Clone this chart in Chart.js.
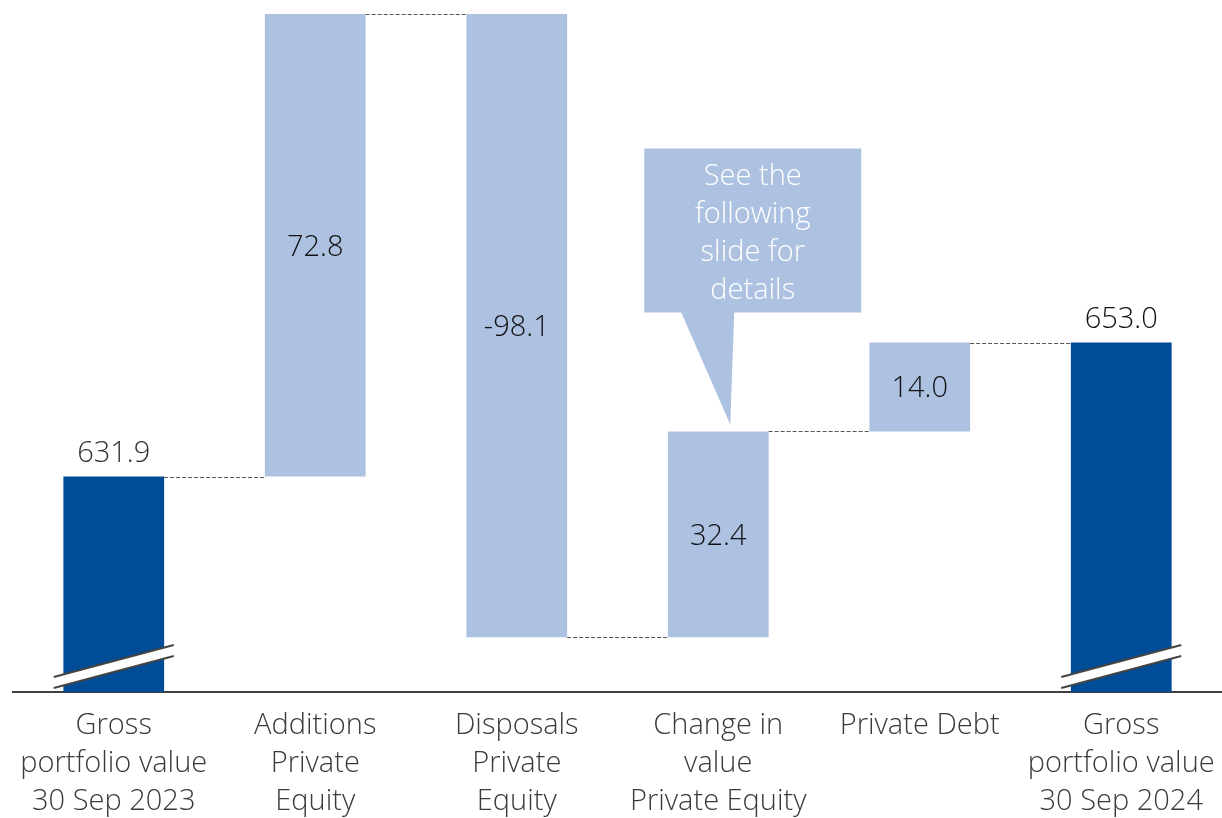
<!DOCTYPE html>
<html>
<head>
<meta charset="utf-8">
<script src="https://cdn.jsdelivr.net/npm/chart.js@4.4.0/dist/chart.umd.min.js"></script>
<style>
  html, body { margin: 0; padding: 0; background: #ffffff; }
  #wrap { width: 1222px; height: 818px; position: relative; }
</style>
</head>
<body>
<div id="wrap"><canvas id="c"></canvas></div>
<script>
// ---- data ----
const categories = [
  ["Gross", "portfolio value", "30 Sep 2023"],
  ["Additions", "Private", "Equity"],
  ["Disposals", "Private", "Equity"],
  ["Change in", "value", "Private Equity"],
  ["Private Debt"],
  ["Gross", "portfolio value", "30 Sep 2024"]
];
const values = [631.9, 72.8, -98.1, 32.4, 14.0, 653.0];
const kinds = ["total", "delta", "delta", "delta", "delta", "total"];
const calloutLines = ["See the", "following", "slide for", "details"];
const calloutIndex = 3;

// ---- derived floating ranges ----
const ranges = [];
const levels = [];
let running = 0;
values.forEach((v, i) => {
  if (kinds[i] === "total") { ranges.push([0, v]); running = v; }
  else { ranges.push([running, running + v]); running += v; }
  levels.push(running);
});

const DARK = "#004C97";
const LIGHT = "#ADC1E1";
const FONT = "'Open Sans', 'Noto Sans', sans-serif";

const overlay = {
  id: "overlay",
  afterDatasetsDraw(chart) {
    const ctx = chart.ctx;
    const meta = chart.getDatasetMeta(0);
    const y = chart.scales.y;
    const area = chart.chartArea;
    ctx.save();
    // connectors
    ctx.strokeStyle = "#555555";
    ctx.lineWidth = 1;
    ctx.setLineDash([4, 2]);
    for (let i = 0; i < meta.data.length - 1; i++) {
      const a = meta.data[i], b = meta.data[i + 1];
      const yy = Math.round(y.getPixelForValue(levels[i])) + 0.5;
      ctx.beginPath();
      ctx.moveTo(a.x + a.width / 2, yy);
      ctx.lineTo(b.x - b.width / 2, yy);
      ctx.stroke();
    }
    ctx.setLineDash([]);
    // axis breaks on totals
    meta.data.forEach((bar, i) => {
      if (kinds[i] !== "total") return;
      const bt = area.bottom;
      const x0 = bar.x - 60, x1 = bar.x + 60;
      ctx.fillStyle = "#ffffff";
      ctx.beginPath();
      ctx.moveTo(x0, bt - 15);
      ctx.lineTo(x1, bt - 47);
      ctx.lineTo(x1, bt - 36);
      ctx.lineTo(x0, bt - 4);
      ctx.closePath();
      ctx.fill();
      ctx.strokeStyle = "#444444";
      ctx.lineWidth = 2;
      ctx.beginPath();
      ctx.moveTo(x0, bt - 15); ctx.lineTo(x1, bt - 47);
      ctx.moveTo(x0, bt - 4); ctx.lineTo(x1, bt - 36);
      ctx.stroke();
    });
    // value labels
    ctx.font = "300 29px " + FONT;
    ctx.textAlign = "center";
    ctx.textBaseline = "middle";
    meta.data.forEach((bar, i) => {
      const txt = values[i].toFixed(1);
      if (kinds[i] === "total") {
        ctx.fillStyle = i === 0 ? "#333333" : "#111111";
        ctx.fillText(txt, bar.x, Math.min(bar.y, bar.base) - 23);
      } else {
        ctx.fillStyle = "#111111";
        ctx.fillText(txt, bar.x, (bar.y + bar.base) / 2 + 2);
      }
    });
    // callout
    const cb = meta.data[calloutIndex];
    const tipX = cb.x + 12, tipY = Math.min(cb.y, cb.base) - 7;
    const rL = tipX - 86, rR = tipX + 131, rT = tipY - 276, rB = tipY - 112;
    ctx.fillStyle = LIGHT;
    ctx.beginPath();
    ctx.moveTo(rL, rT);
    ctx.lineTo(rR, rT);
    ctx.lineTo(rR, rB);
    ctx.lineTo(tipX + 4, rB);
    ctx.lineTo(tipX, tipY);
    ctx.lineTo(tipX - 49, rB);
    ctx.lineTo(rL, rB);
    ctx.closePath();
    ctx.fill();
    ctx.fillStyle = "#ffffff";
    const cx = (rL + rR) / 2;
    calloutLines.forEach((t, k) => ctx.fillText(t, cx, rT + 28 + k * 38));
    ctx.restore();
  }
};

new Chart(document.getElementById("c"), {
  type: "bar",
  data: {
    labels: categories,
    datasets: [{
      data: ranges,
      backgroundColor: kinds.map(k => k === "total" ? DARK : LIGHT),
      borderWidth: 0,
      barPercentage: 0.5,
      categoryPercentage: 1.0
    }]
  },
  options: {
    responsive: true,
    maintainAspectRatio: false,
    animation: false,
    events: [],
    layout: { padding: { left: 13, right: -7, top: 14, bottom: -10 } },
    plugins: { legend: { display: false }, tooltip: { enabled: false } },
    scales: {
      x: {
        offset: true,
        grid: { display: false },
        border: { display: true, color: "#404040", width: 2 },
        ticks: {
          color: "#3a3a3a",
          font: { family: FONT, size: 29, weight: 300, lineHeight: 38 / 29 },
          padding: 7,
          maxRotation: 0,
          autoSkip: false
        }
      },
      y: {
        display: false,
        min: 598,
        max: 704.7
      }
    }
  },
  plugins: [overlay]
});
</script>
</body>
</html>
